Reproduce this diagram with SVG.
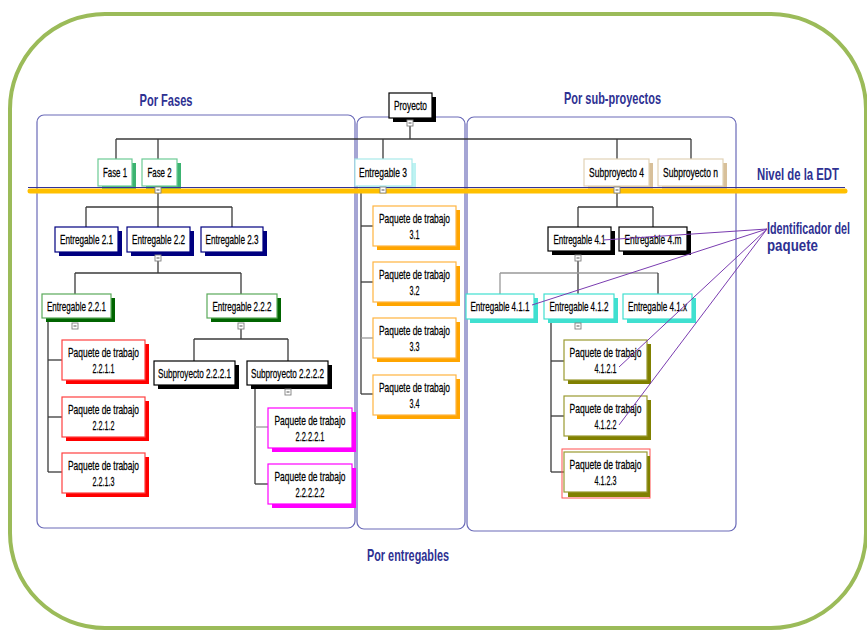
<svg xmlns="http://www.w3.org/2000/svg" width="867" height="630" viewBox="0 0 867 630">
<style>
.t{font-family:"Liberation Sans Narrow","Arial Narrow","Liberation Sans",sans-serif;font-size:10px;fill:#000;stroke:#000;stroke-width:0.2;text-anchor:middle}
.ti{font-family:"Liberation Sans Narrow","Arial Narrow","Liberation Sans",sans-serif;font-size:14px;font-weight:bold;fill:#2E3192}
.cn line{stroke:#3a3a3a;stroke-width:1.3}
.cn line.lt{stroke:#999}
.bx{fill:#fff;stroke-width:1.2}
.grp{fill:none;stroke:#6A6AB8;stroke-width:1.2}
.tg rect{fill:#fff;stroke:#808080;stroke-width:0.9}
.tg line{stroke:#555;stroke-width:1}
.an line{stroke:#7A3CB0;stroke-width:1}
.blk .s{fill:#000}.blk .bx{stroke:#000}
.grn .s{fill:#3CB371}.grn .bx{stroke:#6CCB94}
.nav .s{fill:#000080}.nav .bx{stroke:#000080}
.dgr .s{fill:#006400}.dgr .bx{stroke:#5AAA5A}
.red .s{fill:#FF0000}.red .bx{stroke:#FF4040}
.mag .s{fill:#FF00FF}.mag .bx{stroke:#FF00FF}
.cya .s{fill:#BDF2F2}.cya .bx{stroke:#A8EAEA}
.org .s{fill:#FFA500}.org .bx{stroke:#FFB440}
.tan .s{fill:#D8C09A}.tan .bx{stroke:#E2D2B6}
.tur .s{fill:#40E0D0}.tur .bx{stroke:#40E0D0}
.olv .s{fill:#808000}.olv .bx{stroke:#9A9A30}
</style>
<rect x="10" y="14" width="856" height="614" rx="95" ry="95" fill="#fff" stroke="#9BBB59" stroke-width="4"/>
<g id="groups">
<rect class="grp" x="37" y="115" width="318" height="413" rx="7"/>
<rect class="grp" x="357" y="117" width="108" height="412" rx="7"/>
<rect class="grp" x="467" y="117" width="269" height="414" rx="7"/>
</g>
<g id="titles">
<text class="ti" transform="translate(166,106) scale(1,1.22)" text-anchor="middle" textLength="53" lengthAdjust="spacingAndGlyphs">Por Fases</text>
<text class="ti" transform="translate(612.5,104) scale(1,1.22)" text-anchor="middle" textLength="97" lengthAdjust="spacingAndGlyphs">Por sub-proyectos</text>
<text class="ti" transform="translate(408,561) scale(1,1.22)" text-anchor="middle" textLength="82" lengthAdjust="spacingAndGlyphs">Por entregables</text>
<text class="ti" transform="translate(757,180) scale(1,1.22)" textLength="82" lengthAdjust="spacingAndGlyphs">Nivel de la EDT</text>
<text class="ti" style="font-size:13px" transform="translate(767,234) scale(1,1.31)" textLength="83" lengthAdjust="spacingAndGlyphs">Identificador del</text>
<text class="ti" transform="translate(767,251) scale(1,1.22)" textLength="51" lengthAdjust="spacingAndGlyphs">paquete</text>
</g>
<g id="connectors" class="cn">
<line x1="410" y1="126" x2="410" y2="139"/>
<line x1="116" y1="139" x2="691" y2="139"/>
<line x1="116" y1="139" x2="116" y2="159"/>
<line x1="158" y1="139" x2="158" y2="159"/>
<line x1="383" y1="139" x2="383" y2="159"/>
<line x1="617" y1="139" x2="617" y2="159"/>
<line x1="691" y1="139" x2="691" y2="159"/>
<line x1="158" y1="193" x2="158" y2="207"/>
<line x1="86" y1="207" x2="232" y2="207"/>
<line x1="86" y1="207" x2="86" y2="227"/>
<line x1="158" y1="207" x2="158" y2="227"/>
<line x1="232" y1="207" x2="232" y2="227"/>
<line x1="158" y1="261" x2="158" y2="273"/>
<line x1="75" y1="273" x2="241" y2="273"/>
<line x1="75" y1="273" x2="75" y2="294"/>
<line x1="241" y1="273" x2="241" y2="294"/>
<line x1="48" y1="318" x2="48" y2="472"/>
<line x1="48" y1="360" x2="62" y2="360"/>
<line x1="48" y1="417" x2="62" y2="417"/>
<line x1="48" y1="472" x2="62" y2="472"/>
<line x1="241" y1="329" x2="241" y2="339"/>
<line x1="194" y1="339" x2="288" y2="339"/>
<line x1="194" y1="339" x2="194" y2="361"/>
<line x1="288" y1="339" x2="288" y2="361"/>
<line x1="255" y1="385" x2="255" y2="484"/>
<line class="lt" x1="255" y1="427" x2="268" y2="427"/>
<line x1="255" y1="484" x2="268" y2="484"/>
<line x1="361" y1="187" x2="361" y2="394"/>
<line x1="361" y1="226" x2="373" y2="226"/>
<line x1="361" y1="282" x2="373" y2="282"/>
<line class="lt" x1="361" y1="338" x2="373" y2="338"/>
<line x1="361" y1="394" x2="373" y2="394"/>
<line x1="617" y1="193" x2="617" y2="207"/>
<line x1="578" y1="207" x2="653" y2="207"/>
<line x1="578" y1="207" x2="578" y2="227"/>
<line x1="653" y1="207" x2="653" y2="227"/>
<line x1="578" y1="261" x2="578" y2="294"/>
<line class="lt" x1="500" y1="273" x2="658" y2="273"/>
<line class="lt" x1="500" y1="273" x2="500" y2="294"/>
<line x1="658" y1="273" x2="658" y2="294"/>
<line x1="551" y1="319" x2="551" y2="472"/>
<line x1="551" y1="361" x2="564" y2="361"/>
<line x1="551" y1="416" x2="564" y2="416"/>
<line x1="551" y1="472" x2="564" y2="472"/>
</g>
<g id="n-proyecto" class="blk"><rect class="s" x="393" y="97" width="43" height="25"/><rect class="bx" x="389" y="93" width="43" height="25"/><text class="t" transform="translate(410.5,110) scale(1,1.3)" textLength="33" lengthAdjust="spacingAndGlyphs">Proyecto</text></g>
<g id="n-fase1" class="grn"><rect class="s" x="102" y="163" width="34" height="27"/><rect class="bx" x="98" y="159" width="34" height="27"/><text class="t" transform="translate(115,177) scale(1,1.3)" textLength="24" lengthAdjust="spacingAndGlyphs">Fase 1</text></g>
<g id="n-fase2" class="grn"><rect class="s" x="146" y="163" width="35" height="27"/><rect class="bx" x="142" y="159" width="35" height="27"/><text class="t" transform="translate(159.5,177) scale(1,1.3)" textLength="24" lengthAdjust="spacingAndGlyphs">Fase 2</text></g>
<g id="n-ent3" class="cya"><rect class="s" x="359" y="163" width="57" height="27"/><rect class="bx" x="355" y="159" width="57" height="27"/><text class="t" transform="translate(383,177) scale(1,1.3)" textLength="48" lengthAdjust="spacingAndGlyphs">Entregable 3</text></g>
<g id="n-sub4" class="tan"><rect class="s" x="588" y="163" width="65" height="27"/><rect class="bx" x="584" y="159" width="65" height="27"/><text class="t" transform="translate(616.5,177) scale(1,1.3)" textLength="55" lengthAdjust="spacingAndGlyphs">Subproyecto 4</text></g>
<g id="n-subn" class="tan"><rect class="s" x="662" y="163" width="65" height="27"/><rect class="bx" x="658" y="159" width="65" height="27"/><text class="t" transform="translate(690.5,177) scale(1,1.3)" textLength="55" lengthAdjust="spacingAndGlyphs">Subproyecto n</text></g>
<g id="n-e21" class="nav"><rect class="s" x="59" y="231" width="63" height="25"/><rect class="bx" x="55" y="227" width="63" height="25"/><text class="t" transform="translate(86.5,244) scale(1,1.3)" textLength="53" lengthAdjust="spacingAndGlyphs">Entregable 2.1</text></g>
<g id="n-e22" class="nav"><rect class="s" x="131" y="231" width="63" height="25"/><rect class="bx" x="127" y="227" width="63" height="25"/><text class="t" transform="translate(158.5,244) scale(1,1.3)" textLength="53" lengthAdjust="spacingAndGlyphs">Entregable 2.2</text></g>
<g id="n-e23" class="nav"><rect class="s" x="205" y="231" width="62" height="25"/><rect class="bx" x="201" y="227" width="62" height="25"/><text class="t" transform="translate(232,244) scale(1,1.3)" textLength="53" lengthAdjust="spacingAndGlyphs">Entregable 2.3</text></g>
<g id="n-e41" class="blk"><rect class="s" x="552" y="231" width="63" height="24"/><rect class="bx" x="548" y="227" width="63" height="24"/><text class="t" transform="translate(579.5,244) scale(1,1.3)" textLength="52" lengthAdjust="spacingAndGlyphs">Entregable 4.1</text></g>
<g id="n-e4m" class="blk"><rect class="s" x="623" y="231" width="68" height="24"/><rect class="bx" x="619" y="227" width="68" height="24"/><text class="t" transform="translate(653,244) scale(1,1.3)" textLength="57" lengthAdjust="spacingAndGlyphs">Entregable 4.m</text></g>
<g id="n-e221" class="dgr"><rect class="s" x="46" y="298" width="69" height="24"/><rect class="bx" x="42" y="294" width="69" height="24"/><text class="t" transform="translate(76.5,311) scale(1,1.3)" textLength="59" lengthAdjust="spacingAndGlyphs">Entregable 2.2.1</text></g>
<g id="n-e222" class="dgr"><rect class="s" x="211" y="298" width="70" height="24"/><rect class="bx" x="207" y="294" width="70" height="24"/><text class="t" transform="translate(242,311) scale(1,1.3)" textLength="59" lengthAdjust="spacingAndGlyphs">Entregable 2.2.2</text></g>
<g id="n-e411" class="tur"><rect class="s" x="470" y="298" width="68" height="25"/><rect class="bx" x="466" y="294" width="68" height="25"/><text class="t" transform="translate(500,311) scale(1,1.3)" textLength="59" lengthAdjust="spacingAndGlyphs">Entregable 4.1.1</text></g>
<g id="n-e412" class="tur"><rect class="s" x="548" y="298" width="70" height="25"/><rect class="bx" x="544" y="294" width="70" height="25"/><text class="t" transform="translate(579,311) scale(1,1.3)" textLength="59" lengthAdjust="spacingAndGlyphs">Entregable 4.1.2</text></g>
<g id="n-e41x" class="tur"><rect class="s" x="627" y="298" width="69" height="25"/><rect class="bx" x="623" y="294" width="69" height="25"/><text class="t" transform="translate(657.5,311) scale(1,1.3)" textLength="59" lengthAdjust="spacingAndGlyphs">Entregable 4.1.x</text></g>
<g id="n-s2221" class="blk"><rect class="s" x="158" y="365" width="81" height="24"/><rect class="bx" x="154" y="361" width="81" height="24"/><text class="t" transform="translate(194.5,378) scale(1,1.3)" textLength="73" lengthAdjust="spacingAndGlyphs">Subproyecto 2.2.2.1</text></g>
<g id="n-s2222" class="blk"><rect class="s" x="251" y="365" width="81" height="24"/><rect class="bx" x="247" y="361" width="81" height="24"/><text class="t" transform="translate(287.5,378) scale(1,1.3)" textLength="73" lengthAdjust="spacingAndGlyphs">Subproyecto 2.2.2.2</text></g>
<g id="n-p2211" class="red"><rect class="s" x="66" y="344" width="83" height="40"/><rect class="bx" x="62" y="340" width="83" height="40"/><text class="t" transform="translate(103.5,357) scale(1,1.3)" textLength="71" lengthAdjust="spacingAndGlyphs">Paquete de trabajo</text><text class="t" transform="translate(103.5,373) scale(1,1.3)" textLength="22" lengthAdjust="spacingAndGlyphs">2.2.1.1</text></g>
<g id="n-p2212" class="red"><rect class="s" x="66" y="401" width="83" height="40"/><rect class="bx" x="62" y="397" width="83" height="40"/><text class="t" transform="translate(103.5,414) scale(1,1.3)" textLength="71" lengthAdjust="spacingAndGlyphs">Paquete de trabajo</text><text class="t" transform="translate(103.5,430) scale(1,1.3)" textLength="22" lengthAdjust="spacingAndGlyphs">2.2.1.2</text></g>
<g id="n-p2213" class="red"><rect class="s" x="66" y="457" width="83" height="40"/><rect class="bx" x="62" y="453" width="83" height="40"/><text class="t" transform="translate(103.5,470) scale(1,1.3)" textLength="71" lengthAdjust="spacingAndGlyphs">Paquete de trabajo</text><text class="t" transform="translate(103.5,486) scale(1,1.3)" textLength="22" lengthAdjust="spacingAndGlyphs">2.2.1.3</text></g>
<g id="n-p22221" class="mag"><rect class="s" x="272" y="412" width="84" height="40"/><rect class="bx" x="268" y="408" width="84" height="40"/><text class="t" transform="translate(310,425) scale(1,1.3)" textLength="71" lengthAdjust="spacingAndGlyphs">Paquete de trabajo</text><text class="t" transform="translate(310,441) scale(1,1.3)" textLength="29" lengthAdjust="spacingAndGlyphs">2.2.2.2.1</text></g>
<g id="n-p22222" class="mag"><rect class="s" x="272" y="468" width="84" height="40"/><rect class="bx" x="268" y="464" width="84" height="40"/><text class="t" transform="translate(310,481) scale(1,1.3)" textLength="71" lengthAdjust="spacingAndGlyphs">Paquete de trabajo</text><text class="t" transform="translate(310,497) scale(1,1.3)" textLength="29" lengthAdjust="spacingAndGlyphs">2.2.2.2.2</text></g>
<g id="n-p31" class="org"><rect class="s" x="377" y="210" width="83" height="40"/><rect class="bx" x="373" y="206" width="83" height="40"/><text class="t" transform="translate(414.5,223) scale(1,1.3)" textLength="71" lengthAdjust="spacingAndGlyphs">Paquete de trabajo</text><text class="t" transform="translate(414.5,239) scale(1,1.3)" textLength="10" lengthAdjust="spacingAndGlyphs">3.1</text></g>
<g id="n-p32" class="org"><rect class="s" x="377" y="266" width="83" height="40"/><rect class="bx" x="373" y="262" width="83" height="40"/><text class="t" transform="translate(414.5,279) scale(1,1.3)" textLength="71" lengthAdjust="spacingAndGlyphs">Paquete de trabajo</text><text class="t" transform="translate(414.5,295) scale(1,1.3)" textLength="10" lengthAdjust="spacingAndGlyphs">3.2</text></g>
<g id="n-p33" class="org"><rect class="s" x="377" y="322" width="83" height="40"/><rect class="bx" x="373" y="318" width="83" height="40"/><text class="t" transform="translate(414.5,335) scale(1,1.3)" textLength="71" lengthAdjust="spacingAndGlyphs">Paquete de trabajo</text><text class="t" transform="translate(414.5,351) scale(1,1.3)" textLength="10" lengthAdjust="spacingAndGlyphs">3.3</text></g>
<g id="n-p34" class="org"><rect class="s" x="377" y="379" width="83" height="40"/><rect class="bx" x="373" y="375" width="83" height="40"/><text class="t" transform="translate(414.5,392) scale(1,1.3)" textLength="71" lengthAdjust="spacingAndGlyphs">Paquete de trabajo</text><text class="t" transform="translate(414.5,408) scale(1,1.3)" textLength="10" lengthAdjust="spacingAndGlyphs">3.4</text></g>
<g id="n-p4121" class="olv"><rect class="s" x="568" y="344" width="83" height="40"/><rect class="bx" x="564" y="340" width="83" height="40"/><text class="t" transform="translate(605.5,357) scale(1,1.3)" textLength="72" lengthAdjust="spacingAndGlyphs">Paquete de trabajo</text><text class="t" transform="translate(605.5,373) scale(1,1.3)" textLength="22" lengthAdjust="spacingAndGlyphs">4.1.2.1</text></g>
<g id="n-p4122" class="olv"><rect class="s" x="568" y="400" width="83" height="40"/><rect class="bx" x="564" y="396" width="83" height="40"/><text class="t" transform="translate(605.5,413) scale(1,1.3)" textLength="72" lengthAdjust="spacingAndGlyphs">Paquete de trabajo</text><text class="t" transform="translate(605.5,429) scale(1,1.3)" textLength="22" lengthAdjust="spacingAndGlyphs">4.1.2.2</text></g>
<g id="n-p4123" class="olv"><rect x="562" y="449" width="88" height="49" fill="none" stroke="#FF5050" stroke-width="1"/><rect class="s" x="568" y="456" width="82" height="41"/><rect class="bx" x="564" y="452" width="83" height="40"/><text class="t" transform="translate(605.5,469) scale(1,1.3)" textLength="72" lengthAdjust="spacingAndGlyphs">Paquete de trabajo</text><text class="t" transform="translate(605.5,485) scale(1,1.3)" textLength="22" lengthAdjust="spacingAndGlyphs">4.1.2.3</text></g>
<g id="edt-level">
<line x1="28" y1="187.5" x2="845" y2="187.5" stroke="#333399" stroke-width="1"/>
<line x1="30" y1="191" x2="845" y2="191" stroke="#FFC000" stroke-width="5" stroke-linecap="round"/>
</g>
<g id="toggles" class="tg">
<rect x="407" y="120" width="6" height="6"/><line x1="408.5" y1="123" x2="411.5" y2="123"/>
<rect x="155" y="187" width="6" height="6"/><line x1="156.5" y1="190" x2="159.5" y2="190"/>
<rect x="380" y="187" width="6" height="6"/><line x1="381.5" y1="190" x2="384.5" y2="190"/>
<rect x="614" y="187" width="6" height="6"/><line x1="615.5" y1="190" x2="618.5" y2="190"/>
<rect x="155" y="255" width="6" height="6"/><line x1="156.5" y1="258" x2="159.5" y2="258"/>
<rect x="575" y="255" width="6" height="6"/><line x1="576.5" y1="258" x2="579.5" y2="258"/>
<rect x="72" y="323" width="6" height="6"/><line x1="73.5" y1="326" x2="76.5" y2="326"/>
<rect x="238" y="323" width="6" height="6"/><line x1="239.5" y1="326" x2="242.5" y2="326"/>
<rect x="575" y="323" width="6" height="6"/><line x1="576.5" y1="326" x2="579.5" y2="326"/>
<rect x="285" y="389" width="6" height="6"/><line x1="286.5" y1="392" x2="289.5" y2="392"/>
</g>
<g id="annotations" class="an">
<line x1="767" y1="229" x2="603" y2="240"/>
<line x1="767" y1="229" x2="532" y2="305"/>
<line x1="767" y1="229" x2="619" y2="367"/>
<line x1="767" y1="229" x2="619" y2="425"/>
</g>
</svg>
